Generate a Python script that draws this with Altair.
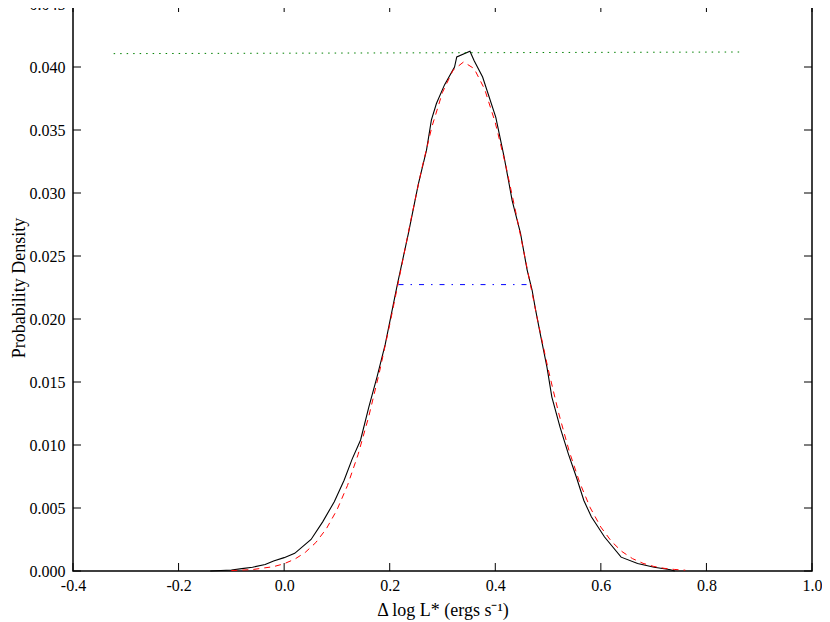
import altair as alt
import pandas as pd

# Black solid curve (empirical density)
black_x = [-0.14, -0.10, -0.08, -0.06, -0.036, -0.02, 0.0, 0.02, 0.051, 0.073, 0.095, 0.1136,
           0.129, 0.1448, 0.1604, 0.176, 0.1916, 0.207, 0.2148, 0.2354, 0.2542, 0.2697, 0.279,
           0.2885, 0.304, 0.3228, 0.327, 0.352, 0.36, 0.376, 0.401, 0.4165, 0.432, 0.4478,
           0.4603, 0.4697, 0.476, 0.4853, 0.4978, 0.5072, 0.5228, 0.5384, 0.554, 0.5678, 0.582,
           0.607, 0.6384, 0.6696, 0.701, 0.732, 0.74]
black_y = [0.0, 0.00008, 0.00019, 0.0003, 0.00052, 0.0008, 0.00106, 0.0014, 0.0025, 0.0039,
           0.0055, 0.0072, 0.0089, 0.0104, 0.0130, 0.0154, 0.0180, 0.0212, 0.0228, 0.0268,
           0.0307, 0.0334, 0.0358, 0.0371, 0.0386, 0.0400, 0.0408, 0.04125, 0.0405, 0.0392,
           0.0360, 0.0329, 0.0294, 0.0268, 0.0239, 0.0223, 0.0208, 0.0188, 0.0162, 0.0138,
           0.0114, 0.0093, 0.0074, 0.0056, 0.0043, 0.0027, 0.0011, 0.0006, 0.0003, 0.0001, 0.0]

# Red dashed curve (fit)
red_x = [-0.10, -0.06, -0.02, 0.00, 0.02, 0.04, 0.06, 0.08, 0.10, 0.12, 0.14, 0.16, 0.18, 0.20,
         0.22, 0.24, 0.26, 0.28, 0.30, 0.32, 0.34, 0.36, 0.38, 0.40, 0.42, 0.44, 0.46, 0.48,
         0.50, 0.52, 0.54, 0.56, 0.58, 0.60, 0.62, 0.64, 0.66, 0.68, 0.70, 0.72, 0.74, 0.76]
red_y = [0.000033, 0.000114, 0.000346, 0.000578, 0.000937, 0.001477, 0.002258, 0.003356,
         0.004844, 0.006787, 0.009236, 0.01221, 0.01568, 0.01955, 0.02367, 0.02784, 0.03179,
         0.03527, 0.03799, 0.03975, 0.04040, 0.03987, 0.03822, 0.03558, 0.03216, 0.02824,
         0.02409, 0.01995, 0.01605, 0.01254, 0.00951, 0.00701, 0.00501, 0.003485, 0.002353,
         0.001542, 0.000982, 0.000607, 0.000365, 0.000213, 0.000121, 0.000066]

# Green dotted line (near the peak level)
green_x = [-0.323, 0.863]
green_y = [0.04106, 0.04119]

# Blue dash-dot line (width level)
blue_x = [0.2167, 0.4666]
blue_y = [0.02273, 0.02273]

x_ticks = [-0.4, -0.2, 0.0, 0.2, 0.4, 0.6, 0.8, 1.0]
y_ticks = [0.000, 0.005, 0.010, 0.015, 0.020, 0.025, 0.030, 0.035, 0.040, 0.045]

W, H = 739, 567
FONT = "Liberation Serif"

xs = alt.Scale(domain=[-0.4, 1.0], nice=False, zero=False)
ys = alt.Scale(domain=[0, 0.045], nice=False, zero=False)

xaxis = alt.Axis(values=x_ticks, format=".1f", labelExpr="replace(datum.label, '\u2212', '-')",
                 title="\u0394 log L* (ergs s\u207b\u00b9)", labelPadding=6, titlePadding=8,
                 labelFlush=False)
yaxis = alt.Axis(values=y_ticks, format=".3f", title="Probability Density",
                 labelPadding=8, titlePadding=1, labelFlush=False)

def line_df(xv, yv):
    return pd.DataFrame({"x": xv, "y": yv})

black = alt.Chart(line_df(black_x, black_y)).mark_line(color="#000000", strokeWidth=1.1).encode(
    x=alt.X("x:Q", scale=xs, axis=xaxis),
    y=alt.Y("y:Q", scale=ys, axis=yaxis),
    order="x:Q",
)
red = alt.Chart(line_df(red_x, red_y)).mark_line(color="#ff0000", strokeWidth=1,
                                                 strokeDash=[6, 5]).encode(
    x=alt.X("x:Q", scale=xs), y=alt.Y("y:Q", scale=ys), order="x:Q")
green = alt.Chart(line_df(green_x, green_y)).mark_line(color="#008000", strokeWidth=1,
                                                       strokeDash=[1.5, 5]).encode(
    x=alt.X("x:Q", scale=xs), y=alt.Y("y:Q", scale=ys))
blue = alt.Chart(line_df(blue_x, blue_y)).mark_line(color="#0000ff", strokeWidth=1,
                                                    strokeDash=[5, 7, 1.5, 7]).encode(
    x=alt.X("x:Q", scale=xs), y=alt.Y("y:Q", scale=ys))

xt = pd.DataFrame({"t": x_ticks})
yt = pd.DataFrame({"t": y_ticks})
tb = alt.Chart(xt).mark_rule(color="black", strokeWidth=1).encode(
    x=alt.X("t:Q", scale=xs), y=alt.value(H), y2=alt.value(H - 8))
tt = alt.Chart(xt).mark_rule(color="black", strokeWidth=1).encode(
    x=alt.X("t:Q", scale=xs), y=alt.value(0), y2=alt.value(8))
tl = alt.Chart(yt).mark_rule(color="black", strokeWidth=1).encode(
    y=alt.Y("t:Q", scale=ys), x=alt.value(0), x2=alt.value(8))
tr = alt.Chart(yt).mark_rule(color="black", strokeWidth=1).encode(
    y=alt.Y("t:Q", scale=ys), x=alt.value(W), x2=alt.value(W - 8))

chart = alt.layer(black, red, green, blue, tb, tt, tl, tr).properties(
    width=W, height=H,
    autosize="none",
    padding={"left": 65, "top": -4, "right": 10, "bottom": 50},
).configure_view(
    stroke="black", strokeWidth=1.5
).configure_axis(
    domain=False, ticks=False, grid=False,
    labelFont=FONT, labelFontSize=16, labelColor="black",
    titleFont=FONT, titleFontSize=18, titleFontWeight="normal", titleColor="black",
)

chart.save("out.html", embed_options={"renderer": "svg", "actions": False})
